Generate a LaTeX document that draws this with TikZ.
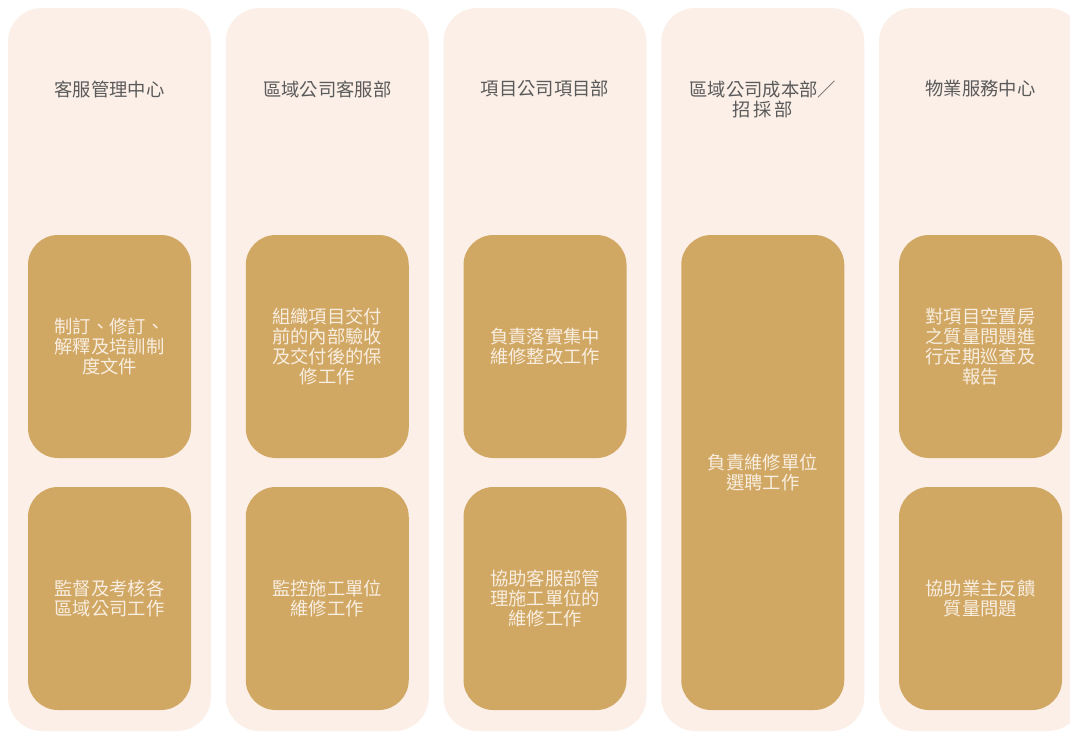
\documentclass[tikz,border=0pt]{standalone}
\usepackage{fontspec}
\setmainfont{Noto Sans CJK TC}
\definecolor{colbg}{HTML}{FBEFE7}
\definecolor{boxbg}{HTML}{D1A764}
\definecolor{headtxt}{HTML}{5A5A5A}
\definecolor{boxtxt}{HTML}{F8EEE0}
\begin{document}
\begin{tikzpicture}[x=1pt,y=-1pt,
  colrect/.style={fill=colbg,draw=none,rounded corners=34pt},
  itembox/.style={fill=boxbg,draw=none,rounded corners=30pt},
  headtext/.style={text=headtxt,font=\fontsize{18.3}{20}\selectfont,align=center,inner sep=0pt},
  itemtext/.style={text=boxtxt,font=\fontsize{18.3}{20}\selectfont,align=center,inner sep=0pt}]
\useasboundingbox (0,0) rectangle (1070,731);
\clip (0,0) rectangle (1070,731);
% columns
\foreach \i in {0,...,4}{
  \fill[colrect] ({8+217.75*\i},8) rectangle ({211+217.75*\i},731);
}
% headers
\node[headtext] (h1) at (109.5,89) {客服管理中心};
\node[headtext] (h2) at (327.25,89) {區域公司客服部};
\node[headtext] (h3) at (545,89) {項目公司項目部};
\node[headtext] (h4) at (762.75,99) {區域公司成本部／\\招\,採\,部};
\node[headtext] (h5) at (980.5,89) {物業服務中心};
% item boxes
\newcommand{\itembox}[5]{%
  \fill[itembox] ({#1-81.5},#2) rectangle ({#1+81.5},#3);
  \node[itemtext] (#4) at (#1,{(#2+#3)/2}) {#5};}
\itembox{109.5}{235}{458}{a1}{制訂、修訂、\\解釋及培訓制\\度文件}
\itembox{109.5}{487}{710}{a2}{監督及考核各\\區域公司工作}
\itembox{327.25}{235}{458}{b1}{組織項目交付\\前的內部驗收\\及交付後的保\\修工作}
\itembox{327.25}{487}{710}{b2}{監控施工單位\\維修工作}
\itembox{545}{235}{458}{c1}{負責落實集中\\維修整改工作}
\itembox{545}{487}{710}{c2}{協助客服部管\\理施工單位的\\維修工作}
\itembox{762.75}{235}{710}{d1}{負責維修單位\\選聘工作}
\itembox{980.5}{235}{458}{e1}{對項目空置房\\之質量問題進\\行定期巡查及\\報告}
\itembox{980.5}{487}{710}{e2}{協助業主反饋\\質量問題}
\end{tikzpicture}
\end{document}
